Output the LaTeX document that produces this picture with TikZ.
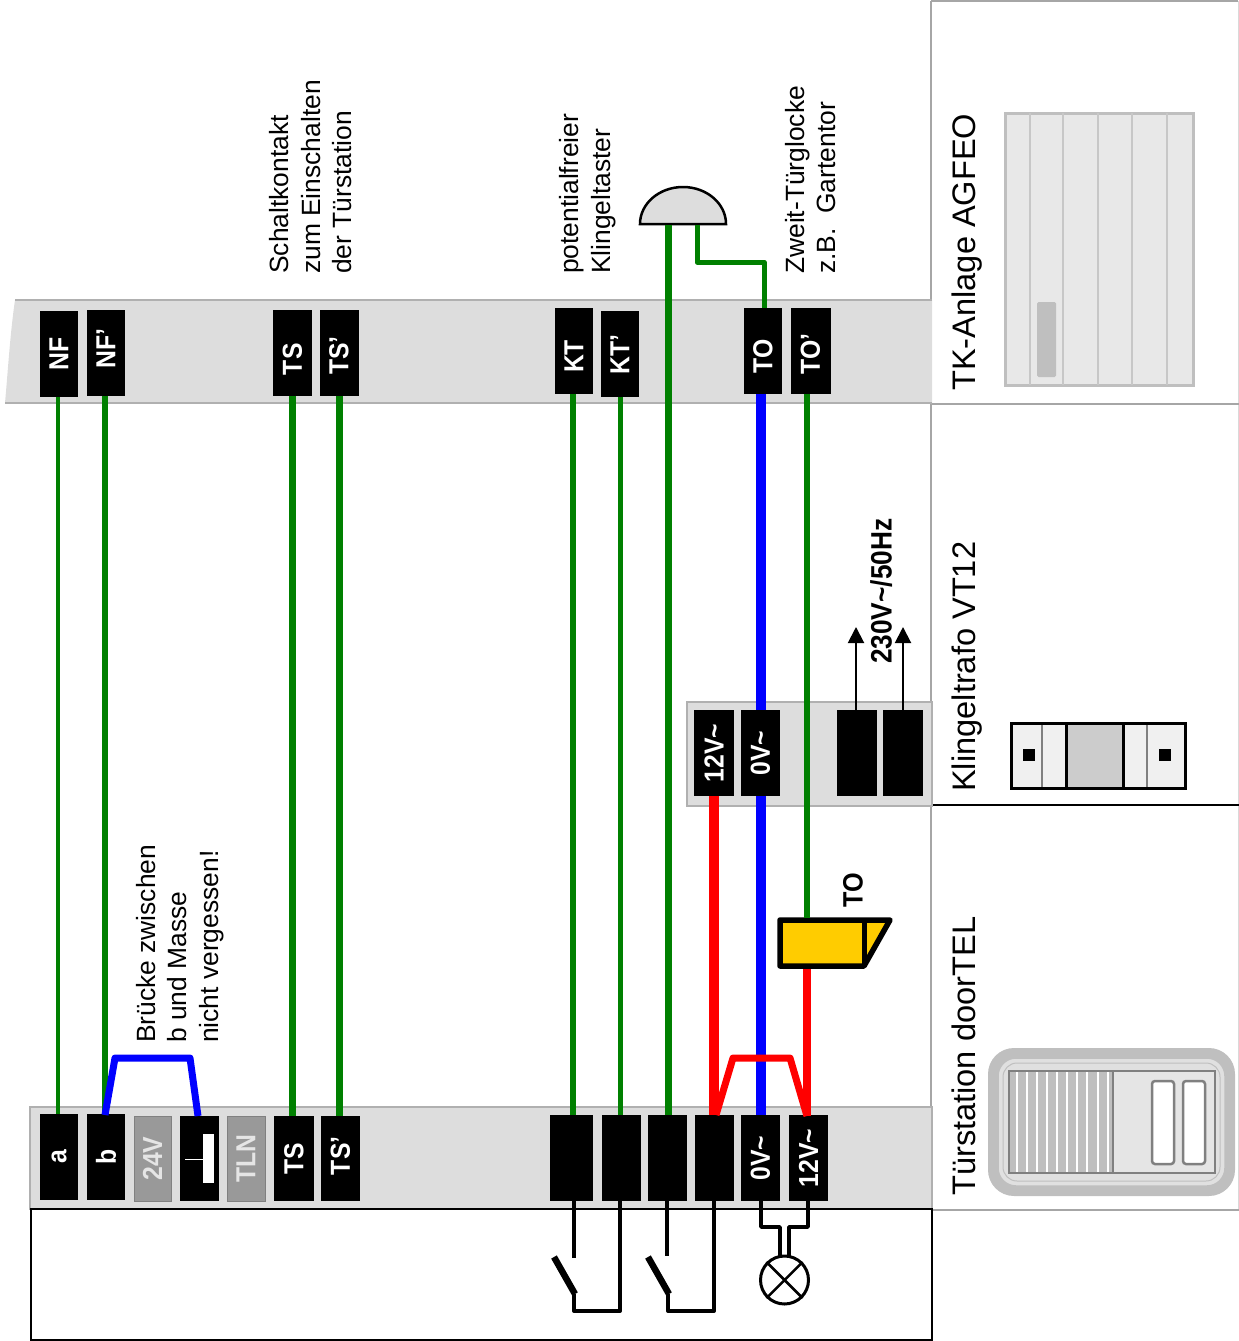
\documentclass[tikz,border=0pt]{standalone}
\usepackage{fontspec}
\usepackage{graphicx}
\setmainfont{Liberation Sans}
\usetikzlibrary{calc,arrows.meta}
\definecolor{band}{HTML}{DDDDDD}
\definecolor{bandline}{HTML}{B0B0B0}
\definecolor{wgreen}{HTML}{008000}
\definecolor{wyellow}{HTML}{FFCC00}
% rotated terminal label; optional shift moves the text down the terminal
\newcommand{\rot}[2][0]{\rotatebox{90}{\scalebox{0.9}[1]{#2\hspace{#1pt}\hspace{#1pt}}}}
\tikzset{
  term/.style={fill=black,text=white,inner sep=0pt,minimum width=39,minimum height=86,font=\fontsize{27.5}{27.5}\selectfont\bfseries},
  gterm/.style={term,fill=black!40,draw=black!50,line width=1,text=black!10},
  bandbox/.style={fill=band,draw=bandline,line width=1.5},
  gwire/.style={draw=wgreen,line width=6},
  bkwire/.style={draw=black,line width=4,line join=round},
  head/.style={rotate=90,anchor=base west,inner sep=0,font=\fontsize{32.6}{36}\selectfont},
  note/.style={rotate=90,anchor=south west,inner sep=0,align=left,font=\fontsize{26.4}{31.5}\selectfont},
  blade/.style={draw=black,line width=6.5},
  mainsarrow/.style={-{Triangle[length=16,width=16]},line width=2},
}
\begin{document}
\begin{tikzpicture}[x=1pt,y=-1pt]
\useasboundingbox (0,0) rectangle (1239,1341);
% device columns frame
\draw[draw=black!35,line width=1.5] (931,1) -- (1238,1);
\draw[draw=black!35,line width=2] (931,1) -- (931,1210);
\draw[draw=black!15,line width=1] (1238,1) -- (1238,1210);
\draw[draw=black!35,line width=2] (931,404) -- (1239,404);
\draw[draw=black,line width=1.5] (931,805) -- (1239,805);
\draw[draw=black!35,line width=2] (931,1210) -- (1239,1210);
% bands
\fill[band] (15,300) .. controls (10,335) and (8,370) .. (5,403) -- (932,403) -- (932,300) -- cycle;
\draw[bandline,line width=1.5] (15,300) -- (932,300) (5,403) -- (932,403);
\draw[bandbox] (687,702) rectangle (932,806);
\draw[bandbox] (30,1107) rectangle (932,1209);
\draw[draw=black,line width=2] (31,1340) -- (31,1209) -- (932,1209) -- (932,1340) -- cycle;
% terminals top
\node[term,minimum width=38] (NF)  at (59,354)  {\rot{NF}};
\node[term,minimum width=38] (NFp) at (106,353) {\rot[-5]{NF’}};
\node[term] (TS1)  at (292.5,353) {\rot[7]{TS}};
\node[term] (TS1p) at (339,353) {\rot[3]{TS’}};
\node[term,minimum width=38] (KT)  at (574,351) {\rot[6]{KT}};
\node[term,minimum width=38] (KTp) at (620,354) {\rot[1]{KT’}};
\node[term,minimum width=38] (TO)  at (763,351) {\rot[6]{TO}};
\node[term,minimum width=40] (TOp) at (810.5,351) {\rot[3]{TO’}};
% terminals trafo
\node[term,minimum width=40] (V12) at (714,753) {\rot{12V\char`\~}};
\node[term] (V0)  at (760.5,753) {\rot{0V\char`\~}};
\node[term,minimum width=40] (N1) at (857,753) {};
\node[term,minimum width=40] (N2) at (903,753) {};
% terminals bottom
\node[term,minimum width=38] (a) at (59,1157) {\rot{a}};
\node[term,minimum width=38] (b) at (106,1157) {\rot{b}};
\node[gterm,minimum width=37,minimum height=85] (v24) at (152.5,1158.5) {\rot{24V}};
\node[term,minimum height=85] (gnd) at (199.5,1158.5) {};
\node[gterm,minimum width=38,minimum height=85] (tln) at (246,1158.5) {\rot{TLN}};
\node[term,minimum width=40,minimum height=85] (TS2) at (294,1158.5) {\rot{TS}};
\node[term,minimum height=85] (TS2p) at (340.5,1158.5) {\rot[-3]{TS’}};
\node[term,minimum width=43] (B1) at (571.5,1158) {};
\node[term] (B2) at (621.5,1158) {};
\node[term] (B3) at (667.5,1158) {};
\node[term] (B4) at (714.5,1158) {};
\node[term] (B5) at (760.5,1158) {\rot{0V\char`\~}};
\node[term] (B6) at (808.5,1158) {\rot{12V\char`\~}};
% ground symbol
\fill[white] (203,1134) rectangle (214,1183);
\draw[white,line width=1] (185,1159) -- (203,1159);
% long wires
\draw[gwire,line width=4] (NF.south -| 58,0) -- (58,1114);
\draw[gwire] (105,396) -- (105,1114);
\draw[gwire,line width=7] (TS1.south) -- (TS1.south |- TS2.north);
\draw[gwire,line width=7] (TS1p.south) -- (TS1p.south |- TS2p.north);
\draw[gwire] (573,394) -- (573,1115);
\draw[gwire,line width=5] (KTp.south) -- (KTp.south |- B2.north);
\draw[draw=blue,line width=10] (V0.south) -- (B5.north);
\draw[draw=blue,line width=10] (760.5,394) -- (V0.north);
\draw[red,line width=10] (V12.south) -- (V12.south |- B4.north);
\draw[red,line width=8] (807,968) -- (807,1116);
\draw[draw=blue,line width=7,line join=round] (105,1115) -- (115,1058) -- (190,1058) -- (198,1116);
\draw[red,line width=7,line join=round] (716,1115) -- (733,1058) -- (790,1058) -- (807,1116);
% arrows to mains
\coordinate (A1) at (856,627);
\coordinate (A2) at (903,627);
\draw[mainsarrow] (A1 |- N1.north) -- (A1);
\draw[mainsarrow] (A2 |- N2.north) -- (A2);
% bell
\draw[fill=band,line width=2.5] (640,224) arc[start angle=180,end angle=0,x radius=43,y radius=-37] -- cycle;
\coordinate (bell1) at (668,225);
\coordinate (bell2) at (697,225);
\draw[gwire,line width=7] (bell1) -- (bell1 |- B3.north);
\draw[gwire,line width=5,line join=round] (bell2) -- (697,262) -- (764,262) -- (764,308);
% to yellow
\draw[gwire] (807,394) -- (807,920);
\node[inner sep=0,font=\fontsize{28}{28}\selectfont\bfseries] (TOlab) at (853,890) {\rotatebox{90}{\scalebox{0.9}[1]{TO}}};
\draw[line width=5.5,line join=round,fill=wyellow] (780,920) -- (890,920) -- (864,966) -- (780,966) -- cycle;
\draw[line width=5] (864,920) -- (864,966);
\draw[gwire] (807,880) -- (807,920);
\draw[line width=5] (780,920) -- (890,920);
% switches and lamp
\coordinate (s1a) at (574,1258);
\coordinate (s1b) at (574,1294);
\coordinate (s2a) at (667,1256);
\coordinate (s2b) at (668,1294);
\draw[bkwire] (574,1201) -- (s1a);
\draw[blade] (554,1257) -- (575,1294);
\draw[bkwire] (s1b) -- (574,1311) -- (620,1311) -- (620,1201);
\draw[bkwire,line width=3.5] (667,1201) -- (s2a);
\draw[blade] (648,1257) -- (669,1294);
\draw[bkwire] (s2b) -- (668,1311) -- (714,1311) -- (714,1201);
\draw[bkwire,line width=3.5] (761,1201) -- (761,1227) -- (780,1227) -- (780,1257);
\draw[bkwire,line width=3.5] (808,1201) -- (808,1227) -- (789,1227) -- (789,1257);
\node[circle,draw=black,fill=white,line width=3,minimum size=48,inner sep=0] (lamp) at (784.5,1280) {};
\draw[line width=2.5] (lamp.north west) -- (lamp.south east) (lamp.north east) -- (lamp.south west);
% notes
\node[note] (n1) at (352,274) {Schaltkontakt\\zum Einschalten\\der Türstation};
\node[note] (n2) at (616,274) {potentialfreier\\Klingeltaster};
\node[note] (n3) at (836,274) {Zweit-Türglocke\\z.B.\ \ Gartentor};
\node[note] (n4) at (224,1043) {Brücke zwischen\\b und Masse\\nicht vergessen!};
\node[rotate=90,anchor=base west,inner sep=0,font=\fontsize{29.5}{29.5}\selectfont\bfseries,xscale=0.89] (mains) at (891.5,664) {230V\char`\~/50Hz};
% device headings
\node[head] (h1) at (975,391) {TK-Anlage AGFEO};
\node[head] (h2) at (975,792) {Klingeltrafo VT12};
\node[head] (h3) at (975,1196) {Türstation doorTEL};
% AGFEO icon
\draw[fill=black!9,draw=black!25,line width=3] (1005,113) rectangle (1193,385);
\foreach \x in {1030,1063,1098,1132,1167} \draw[draw=black!22,line width=1.5] (\x,113) -- (\x,385);
\fill[black!25,rounded corners=1.5] (1037,302) rectangle (1056,377);
% trafo icon
\draw[fill=black!6,line width=3] (1011,723) rectangle (1185,788);
\draw[draw=black!50,line width=1.5] (1042,723) -- (1042,788) (1147,723) -- (1147,788);
\draw[fill=black!20,line width=3] (1066,723) rectangle (1123,788);
\draw[line width=3] (1011,723) rectangle (1185,788);
\fill (1023,749) rectangle (1035,761);
\fill (1159,749) rectangle (1171,761);
% door station icon
\fill[black!25,rounded corners=26] (988,1048) rectangle (1235,1196);
\draw[fill=black!12,draw=black!25,line width=1.5,rounded corners=18] (998,1058) rectangle (1225,1186);
\draw[draw=black!25,line width=1,rounded corners=14] (1003,1063) rectangle (1220,1181);
\draw[fill=black!10,draw=black!50,line width=1.5] (1009,1071) rectangle (1215,1173);
\fill[black!25] (1009,1071) rectangle (1113,1173);
\foreach \x in {1017,1027,1037,1047,1057,1067,1077,1087,1098,1108} \draw[white,line width=1.2] (\x,1072) -- (\x,1172);
\draw[draw=black!50,line width=1.5] (1009,1071) rectangle (1215,1173) (1113,1071) -- (1113,1173);
\draw[fill=white,draw=black!50,line width=2.5,rounded corners=3] (1152,1081) rectangle (1174,1164);
\draw[fill=white,draw=black!50,line width=2.5,rounded corners=3] (1183,1081) rectangle (1205,1164);
\end{tikzpicture}
\end{document}
